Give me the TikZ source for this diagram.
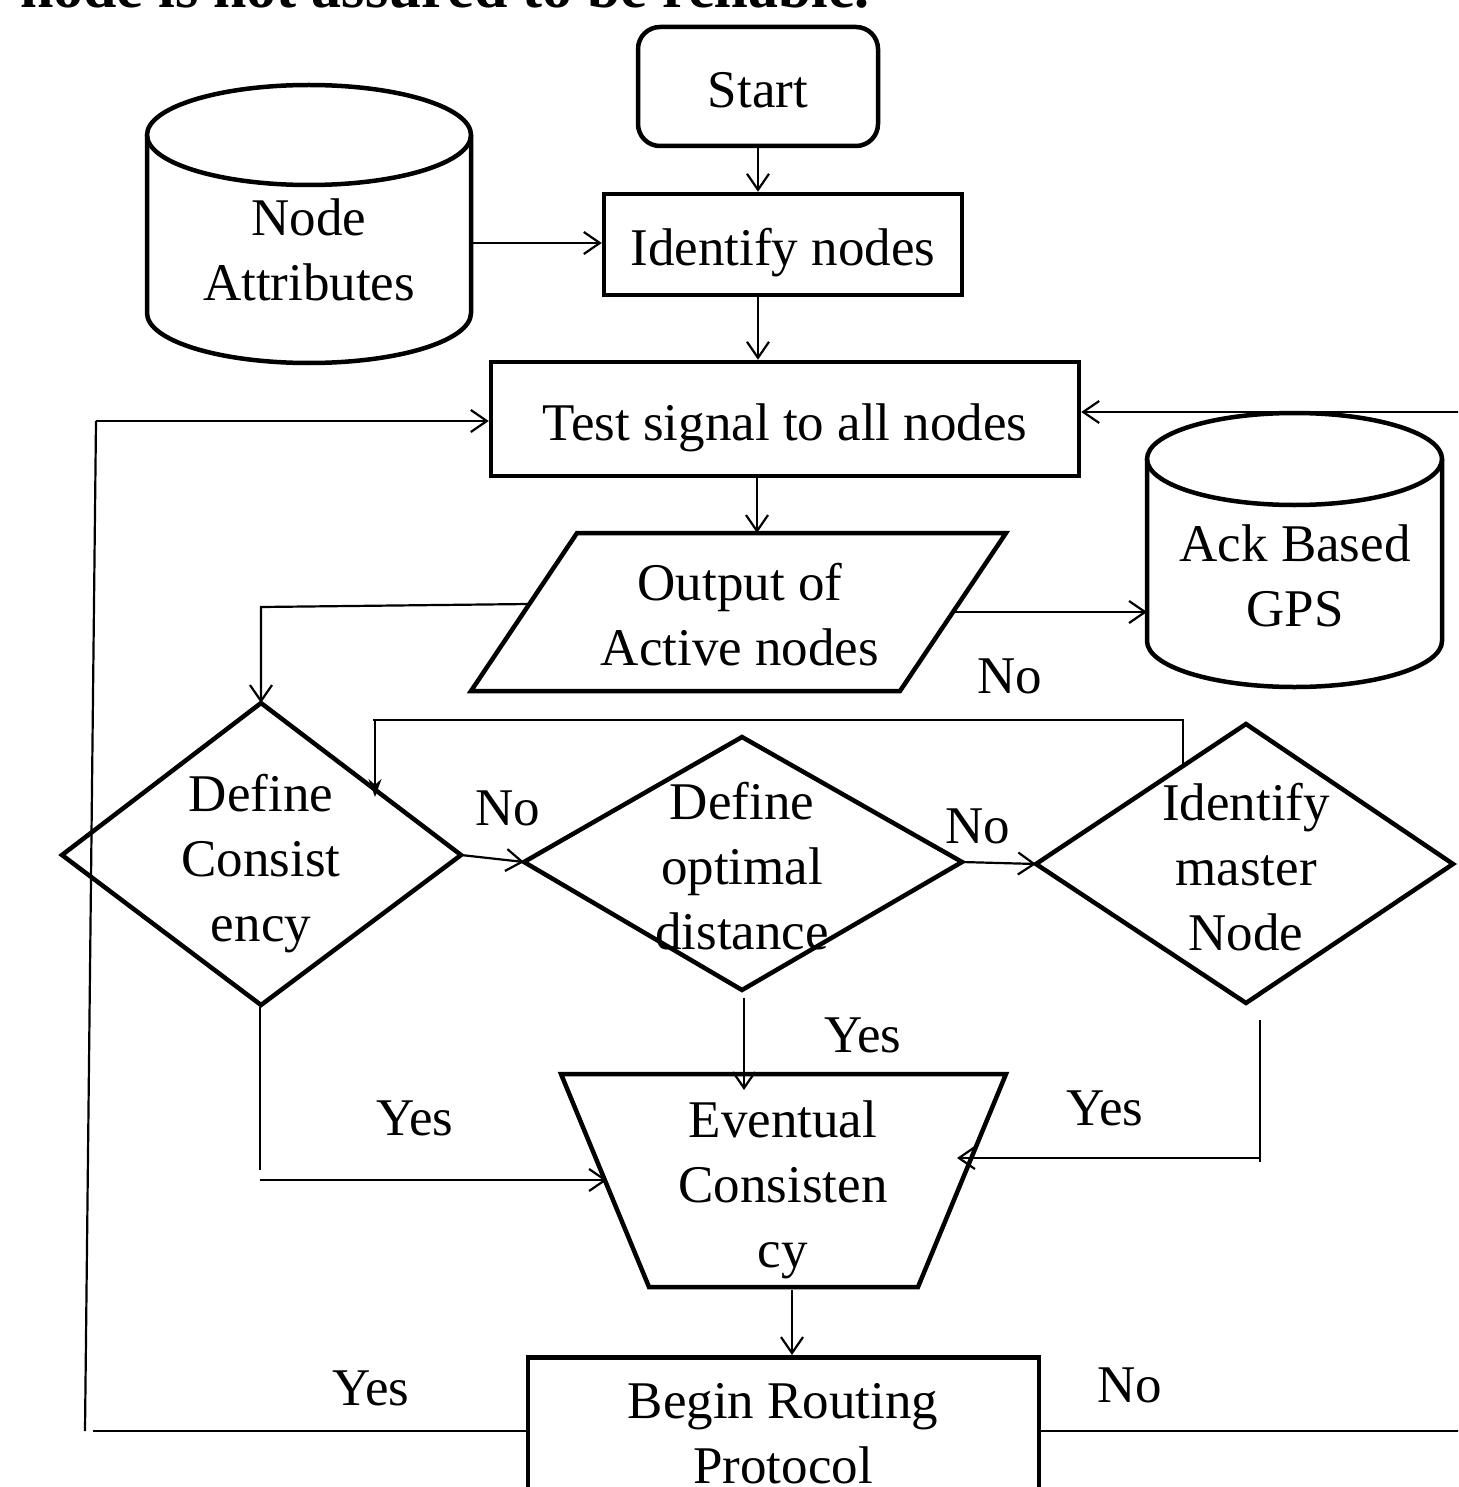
\documentclass[tikz,border=0pt]{standalone}
\usepackage{fontspec}
\setmainfont{Liberation Serif}
\usetikzlibrary{arrows.meta}
\newcommand\flowfont{\fontsize{53}{65}\selectfont}
\begin{document}
\begin{tikzpicture}[x=1pt,y=-1pt,
  shapeline/.style={line width=4.5pt, line join=miter},
  conn/.style={line width=2.2pt},
  arr/.style={conn, -{Straight Barb[length=16pt,width=22pt]}},
  solidarr/.style={conn, -{Stealth[length=18pt,width=13pt]}},
  box/.style={draw, shapeline, inner sep=0pt, font=\flowfont, align=center,
              text height=42pt, text depth=0pt},
  plainbox/.style={draw, shapeline, inner sep=0pt},
  txt/.style={font=\flowfont, align=center, inner sep=0pt},
  lbl/.style={font=\flowfont, inner sep=0pt},
]
\useasboundingbox (0,0) rectangle (1458,1487);
\clip (0,0) rectangle (1458,1487);

% heading line running off the top edge
\node[anchor=base west, inner sep=0pt, font=\bfseries\fontsize{60}{72}\selectfont] (heading) at (20,8) {node is not assured to be reliable.};

% ---------- process boxes ----------
\node[box, rounded corners=22pt, minimum width=240pt, minimum height=119pt] (start) at (758,86.5) {Start};
\node[box, minimum width=358pt, minimum height=101pt] (ident) at (783,244.5) {Identify nodes};
\node[box, minimum width=588pt, minimum height=114pt] (test) at (785,419) {Test signal to all nodes};
\node[plainbox, minimum width=511pt, minimum height=164pt, anchor=north] (route) at (783.5,1355) {};
\node[txt] (routetext) at (783,1434) {Begin Routing\\Protocol};

% ---------- data stores (cylinders) ----------
% Node Attributes
\draw[shapeline] (147,135) -- (147,313) arc[start angle=180, end angle=360, x radius=162pt, y radius=50pt] -- (471,135);
\draw[shapeline] (309,135) ellipse[x radius=162pt, y radius=50pt];
\node[txt] (attr) at (309,250) {Node\\Attributes};
\coordinate (attr-e) at (471,243);
% Ack Based GPS
\draw[shapeline] (1147,459) -- (1147,641) arc[start angle=180, end angle=360, x radius=147.5pt, y radius=46pt] -- (1442,459);
\draw[shapeline] (1294.5,459) ellipse[x radius=147.5pt, y radius=46pt];
\node[txt] (ack) at (1295,576) {Ack Based\\GPS};
\coordinate (ack-w) at (1147,612);

% ---------- output (parallelogram) ----------
\draw[shapeline] (577,533) -- (1006,533) -- (900,691) -- (471,691) -- cycle;
\node[txt] (out) at (740,615) {Output of\\Active nodes};
\coordinate (out-n) at (757,533);
\coordinate (out-e) at (953,612);
\coordinate (out-w) at (529,604);

% ---------- decisions ----------
\draw[shapeline] (62,855) -- (261,703) -- (461,855) -- (261,1005) -- cycle;
\node[txt] (dc) at (261,864) {Define\\Consist\\ency};
\coordinate (dc-n) at (261,703);
\coordinate (dc-e) at (461,855);
\coordinate (dc-s) at (260,1007);
\coordinate (dc-in) at (375,797);

\draw[shapeline] (524,862) -- (742,737) -- (962,862) -- (742,990) -- cycle;
\node[txt] (do) at (742,866) {Define\\optimal\\distance};
\coordinate (do-w) at (524,862);
\coordinate (do-e) at (962,862);
\coordinate (do-s) at (744,998);

\draw[shapeline] (1036,864) -- (1246,724) -- (1453,864) -- (1246,1003) -- cycle;
\node[txt] (im) at (1246,867) {Identify\\master\\Node};
\coordinate (im-w) at (1036,864);
\coordinate (im-up) at (1183,766);
\coordinate (im-s) at (1260,1020);

% ---------- eventual consistency (trapezium) ----------
\draw[shapeline] (561,1074) -- (1006,1074) -- (918,1287) -- (649,1287) -- cycle;
\node[txt] (ev) at (783,1190) {Eventual\\Consisten\\cy};
\coordinate (ev-top) at (744,1090);
\coordinate (ev-w) at (607,1180);
\coordinate (ev-e) at (957,1158);
\coordinate (ev-s) at (792,1290);

% ---------- connectors ----------
\draw[arr] (start.south) -- (start.south |- ident.north);
\draw[arr] (attr-e) -- (attr-e -| ident.west);
\draw[arr] ([xshift=-25pt]ident.south) -- ([xshift=-25pt]ident.south |- test.north);
\draw[arr] (out-n |- test.south) -- (out-n);
\draw[arr] (out-e) -- (ack-w);
\draw[arr] (out-w) -- (261,607) -- (dc-n);
\draw[arr] (dc-e) -- (do-w);
\draw[arr] (do-e) -- (im-w);
\draw[solidarr] (im-up) -- (1183,720) -- (373,720) -- (375,720) -- (dc-in);
\draw[arr] (do-s) -- (ev-top);
\draw[conn] (dc-s) -- (260,1170);
\draw[arr] (260,1180) -- (ev-w);
\draw[conn] (im-s) -- (1260,1162);
\draw[arr] (1260,1158) -- (ev-e);
\draw[arr] (ev-s) -- (ev-s |- route.north);

% loop back from routing (left side)
\coordinate (loop-bl) at (85,1431);
\coordinate (loop-tl) at (96,421);
\draw[conn] (loop-bl) -- (loop-tl);
\draw[arr] (loop-tl) -- (loop-tl -| test.west);
\draw[conn] (93,1431) -- (93,1431 -| route.west);
% loop back from routing (right side, runs off the edge)
\draw[conn] (route.east |- 0,1431) -- (1460,1431);
\draw[arr] (1460,412) -- (1460,412 -| test.east);

% ---------- branch labels ----------
\node[lbl] (l1) at (1010,676) {No};
\node[lbl] (l2) at (508,808) {No};
\node[lbl] (l3) at (978,826) {No};
\node[lbl] (l4) at (863,1035) {Yes};
\node[lbl] (l5) at (415,1118) {Yes};
\node[lbl] (l6) at (1105,1108) {Yes};
\node[lbl] (l7) at (371,1388) {Yes};
\node[lbl] (l8) at (1130,1385) {No};
\end{tikzpicture}
\end{document}
